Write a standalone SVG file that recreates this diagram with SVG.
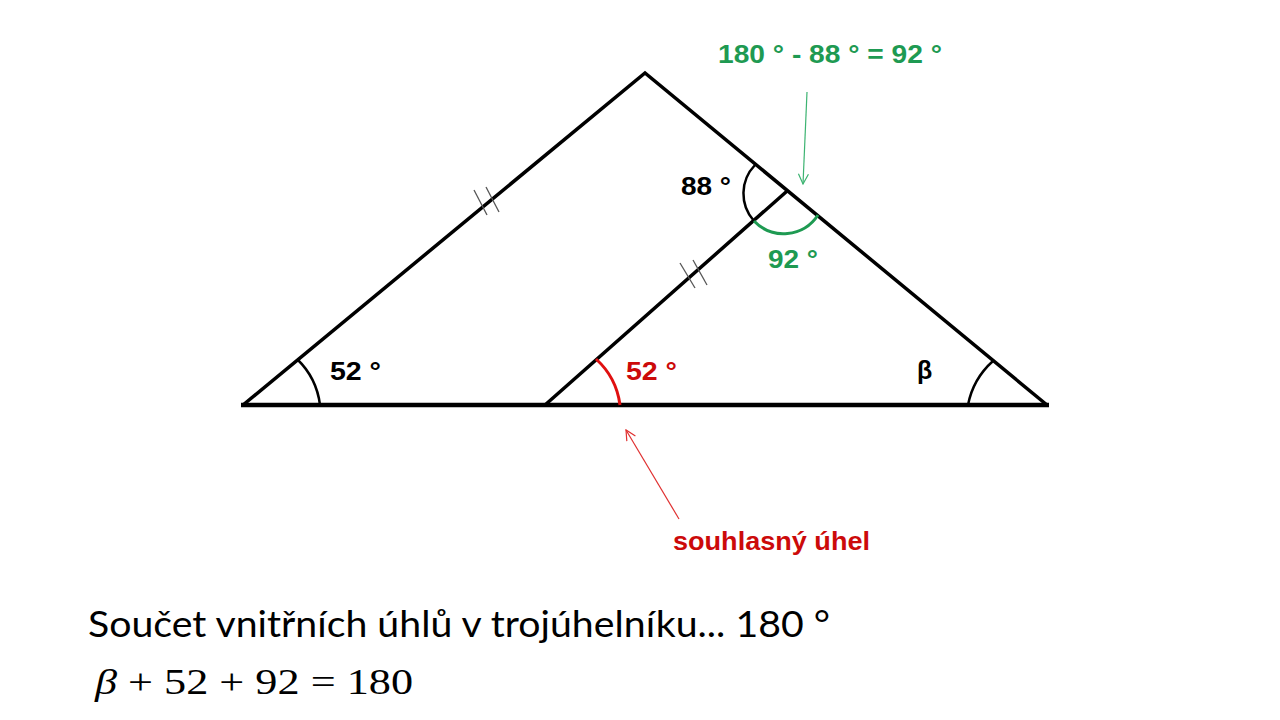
<svg xmlns="http://www.w3.org/2000/svg" width="1280" height="720" viewBox="0 0 1280 720">
<defs>
<style>
.side{stroke:#000;stroke-width:3.5;fill:none;stroke-linecap:round}
.arc{stroke:#000;stroke-width:2.5;fill:none}
.tick{stroke:#555;stroke-width:1.3}
.lbl{font-family:"Liberation Sans",Arial,sans-serif;font-weight:bold;font-size:25px}
.g{fill:#1e9a52}
.r{fill:#cc0a0a}
.k{fill:#000}
</style>
<marker id="ag" viewBox="0 0 12 12" refX="11" refY="6" markerWidth="12" markerHeight="12" markerUnits="userSpaceOnUse" orient="auto"><path d="M1,1 L11,6 L1,11" fill="none" stroke="#3cb371" stroke-width="1.2"/></marker>
<marker id="ar" viewBox="0 0 12 12" refX="11" refY="6" markerWidth="12" markerHeight="12" markerUnits="userSpaceOnUse" orient="auto"><path d="M1,1 L11,6 L1,11" fill="none" stroke="#e03030" stroke-width="1.2"/></marker>
</defs>
<rect width="1280" height="720" fill="#fff"/>
<g id="triangle">
<polyline class="side" points="243,405 645,73 1047,405"/>
<line x1="241" y1="405" x2="1049" y2="405" stroke="#000" stroke-width="4.5"/>
</g>
<g id="inner-segment">
<line class="side" x1="545" y1="405" x2="786" y2="192"/>
</g>
<g id="ticks">
<line class="tick" x1="474" y1="190" x2="487" y2="215"/>
<line class="tick" x1="486" y1="187" x2="499" y2="212"/>
<line class="tick" x1="680" y1="263" x2="695" y2="288"/>
<line class="tick" x1="693" y1="260" x2="707" y2="285"/>
</g>
<g id="angle-A">
<path class="arc" d="M320,405 A77,77 0 0 0 297,359"/>
<text class="lbl k" x="330" y="380" textLength="51" lengthAdjust="spacingAndGlyphs">52 °</text>
</g>
<g id="angle-D">
<path d="M620,405 A75,75 0 0 0 596,359" fill="none" stroke="#e01010" stroke-width="3"/>
<text class="lbl r" x="626" y="380" textLength="51" lengthAdjust="spacingAndGlyphs">52 °</text>
</g>
<g id="angle-C">
<path class="arc" d="M968,405 A79,79 0 0 1 993,361"/>
<text class="lbl k" x="917" y="379">β</text>
</g>
<g id="angle-88">
<path class="arc" d="M755,165 A41,41 0 0 0 754,221"/>
<text class="lbl k" x="681" y="195" textLength="50" lengthAdjust="spacingAndGlyphs">88 °</text>
</g>
<g id="angle-92">
<path d="M754,221 A41,41 0 0 0 818,215" fill="none" stroke="#1e9a52" stroke-width="3"/>
<text class="lbl g" x="768" y="268" textLength="50" lengthAdjust="spacingAndGlyphs">92 °</text>
</g>
<g id="connectors">
<line x1="807" y1="92" x2="803" y2="184" stroke="#3cb371" stroke-width="1.2" marker-end="url(#ag)"/>
<line x1="679" y1="519" x2="626" y2="430" stroke="#e03030" stroke-width="1.2" marker-end="url(#ar)"/>
</g>
<g id="formula-green">
<text class="lbl g" x="718" y="63" textLength="224" lengthAdjust="spacingAndGlyphs">180 ° - 88 ° = 92 °</text>
</g>
<g id="label-souhlasny">
<text class="lbl r" x="673" y="550" textLength="197" lengthAdjust="spacingAndGlyphs">souhlasný úhel</text>
</g>
<g id="bottom-text">
<text x="88" y="637" font-family="Lato,'Open Sans',sans-serif" font-size="36" fill="#000" textLength="742" lengthAdjust="spacingAndGlyphs">Součet vnitřních  úhlů v trojúhelníku... 180 °</text>
<text x="95" y="694" font-family="'Liberation Serif','Times New Roman',serif" font-size="35" fill="#000" textLength="318" lengthAdjust="spacingAndGlyphs"><tspan font-style="italic">β</tspan> + 52 + 92 = 180</text>
</g>
</svg>
